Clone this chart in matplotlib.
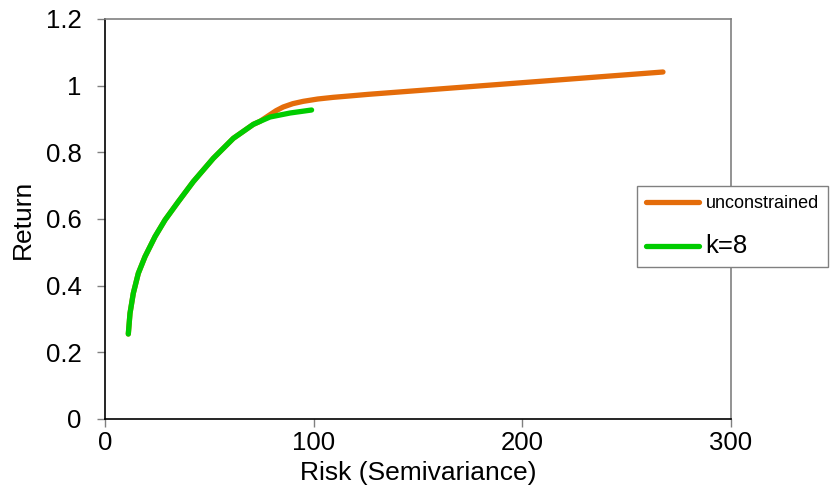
# Efficient frontier: unconstrained vs cardinality k=8

import matplotlib
matplotlib.use("Agg")
import matplotlib.pyplot as plt

plt.rcParams["font.family"] = ["Liberation Sans", "DejaVu Sans"]

# ----------------------------------------
# Data

risk_unc = [11.17, 11.98, 13.56, 15.96, 19.17, 23.96, 28.75, 35.13, 42.3, 51.9, 61.5, 71.1, 74.3,
            79.1, 82.0, 85.4, 90.0, 95.0, 102.0, 109.4, 117.0, 126.2, 200.0, 267.4]
ret_unc = [0.255, 0.317, 0.377, 0.437, 0.487, 0.547, 0.597, 0.652, 0.712, 0.782, 0.842, 0.884, 0.893,
           0.913, 0.925, 0.936, 0.946, 0.953, 0.960, 0.965, 0.969, 0.974, 1.009, 1.041]

risk_k8 = [11.17, 11.98, 13.56, 15.96, 19.17, 23.96, 28.75, 35.13, 42.3, 51.9, 61.5, 71.1, 74.3,
           79.1, 88.7, 99.0]
ret_k8 = [0.255, 0.317, 0.377, 0.437, 0.487, 0.547, 0.597, 0.652, 0.712, 0.782, 0.842, 0.884, 0.893,
          0.906, 0.918, 0.927]

x_ticks = [0, 100, 200, 300]
y_ticks = [0, 0.2, 0.4, 0.6, 0.8, 1, 1.2]
y_labels = ["0", "0.2", "0.4", "0.6", "0.8", "1", "1.2"]

orange = "#E46C0A"
green = "#00CC00"

# ----------------------------------------

fig = plt.figure(figsize=(8.30, 4.93), dpi=100)
ax = fig.add_axes([105 / 830, 74 / 493, 626 / 830, 400 / 493])

ax.plot(risk_unc, ret_unc, color=orange, lw=3.8, solid_capstyle="round", solid_joinstyle="round", label="unconstrained")
ax.plot(risk_k8, ret_k8, color=green, lw=3.8, solid_capstyle="round", solid_joinstyle="round", label="k=8")

ax.set_xlim(0, 300)
ax.set_ylim(0, 1.2)
ax.set_xticks(x_ticks)
ax.set_yticks(y_ticks)
ax.set_yticklabels(y_labels)
ax.tick_params(direction="out", length=6, width=1, color="#808080", labelsize=18.5)
ax.tick_params(axis="y", pad=11)
ax.tick_params(axis="x", pad=3)

ax.set_xlabel("Risk (Semivariance)", fontsize=19)
ax.set_ylabel("Return", fontsize=19)
ax.xaxis.set_label_coords(0.5, -0.104)
ax.yaxis.set_label_coords(-0.112, 0.5)

for side in ["left", "bottom"]:
    ax.spines[side].set_color("black")
    ax.spines[side].set_linewidth(1.2)
for side in ["top", "right"]:
    ax.spines[side].set_color("#808080")
    ax.spines[side].set_linewidth(1.2)

# Legend straddles the right spine
leg = ax.legend(loc="upper left", bbox_to_anchor=(637 / 830, (493 - 186) / 493),
                bbox_transform=fig.transFigure, frameon=True, fancybox=False,
                edgecolor="#808080", framealpha=1, handlelength=2.95, handletextpad=0.35,
                borderpad=0.5, borderaxespad=0, labelspacing=1.2, fontsize=13)
leg.get_frame().set_linewidth(1)
leg.get_texts()[1].set_fontsize(18.5)
leg.set_zorder(10)

fig.savefig("out.png", dpi=100)
